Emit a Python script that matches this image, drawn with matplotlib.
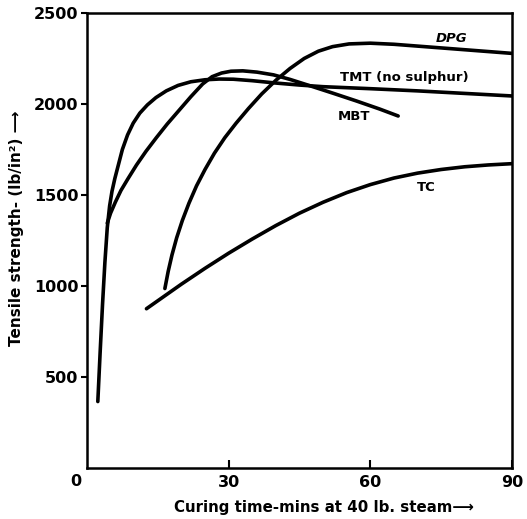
import matplotlib
matplotlib.use("Agg")
import matplotlib.pyplot as plt

plt.rcParams['font.family'] = ['DejaVu Sans']

# curing time (min) / tensile strength (lb/in^2)
tmt_x = [2.3, 2.8, 3.3, 3.8, 4.3, 4.8, 5.3, 5.9, 6.6, 7.5, 8.6, 9.8, 11.2, 12.8, 14.6, 16.8, 19.3, 22.0,
         25.0, 28.0, 31.0, 35.0, 40.0, 45.0, 50.0, 60.0, 70.0, 80.0, 90.0]
tmt_y = [365, 640, 900, 1130, 1320, 1440, 1520, 1590, 1660, 1750, 1830, 1895, 1950, 1995, 2035, 2072, 2102, 2122,
         2133, 2137, 2136, 2128, 2115, 2104, 2095, 2084, 2072, 2058, 2044]

mbt_x = [4.3, 5.0, 6.0, 7.2, 8.7, 10.5, 12.5, 14.7, 17.0, 19.5, 22.0, 24.5, 26.5, 28.5, 30.5, 33.0, 36.0,
         39.5, 43.0, 47.0, 52.0, 57.0, 62.0, 65.9]
mbt_y = [1345, 1400, 1460, 1525, 1590, 1665, 1740, 1815, 1890, 1965, 2040, 2110, 2150, 2170, 2180, 2182, 2175,
         2160, 2135, 2102, 2060, 2017, 1972, 1934]

dpg_x = [16.5, 17.2, 18.0, 19.0, 20.2, 21.6, 23.2, 25.0, 27.0, 29.2, 31.6, 34.2, 37.0, 40.0, 43.0, 46.0,
         49.0, 52.0, 55.5, 60.0, 65.0, 70.0, 80.0, 90.0]
dpg_y = [986, 1080, 1170, 1265, 1360, 1455, 1550, 1640, 1730, 1815, 1895, 1975, 2055, 2130, 2195, 2250,
         2290, 2315, 2330, 2334, 2328, 2318, 2298, 2278]

tc_x = [12.6, 20.0, 25.0, 30.0, 35.0, 40.0, 45.0, 50.0, 55.0, 60.0, 65.0, 70.0, 75.0, 80.0, 85.0, 90.0]
tc_y = [875, 1010, 1097, 1180, 1258, 1332, 1400, 1460, 1513, 1557, 1593, 1620, 1640, 1655, 1665, 1672]

names = ["DPG", "TMT (no sulphur)", "MBT", "TC"]
name_x = [77.1, 67.3, 56.5, 71.8]
name_y = [2362, 2148, 1929, 1540]

fig = plt.figure(figsize=(5.27, 5.19), dpi=100)
ax = fig.add_axes([0.165, 0.0983, 0.8065, 0.8767])

for xs, ys in [(tmt_x, tmt_y), (mbt_x, mbt_y), (dpg_x, dpg_y), (tc_x, tc_y)]:
    ax.plot(xs, ys, color='black', lw=2.6, solid_capstyle='round', solid_joinstyle='round')

for i, name in enumerate(names):
    ax.text(name_x[i], name_y[i], name, ha='center', va='center', fontsize=9.5,
            fontweight='bold', style='italic' if name == "DPG" else 'normal')

ax.set_xlim(0, 90)
ax.set_ylim(0, 2500)
ax.set_xticks([30, 60, 90])
ax.set_yticks([500, 1000, 1500, 2000, 2500])
ax.tick_params(axis='x', direction='in', length=6, width=1.5, pad=5, labelsize=11.5)
ax.tick_params(axis='y', direction='out', length=4, width=1.5, pad=2, labelsize=11.5)
for lab in ax.get_xticklabels() + ax.get_yticklabels():
    lab.set_fontweight('bold')
for s in ax.spines.values():
    s.set_linewidth(1.8)

# shared origin label
ax.annotate("0", xy=(0, 0), xytext=(-8, -9.5), textcoords='offset points',
            ha='center', va='center', fontsize=11.5, fontweight='bold')

fig.text(0.615, 0.022, "Curing time-mins at 40 lb. steam\u27f6", ha='center', va='center',
         fontsize=10.8, fontweight='bold')
fig.text(0.032, 0.561, "Tensile strength- (lb/in\u00b2) \u27f6", ha='center', va='center',
         rotation=90, fontsize=11, fontweight='bold')

fig.savefig("out.png", dpi=100)
